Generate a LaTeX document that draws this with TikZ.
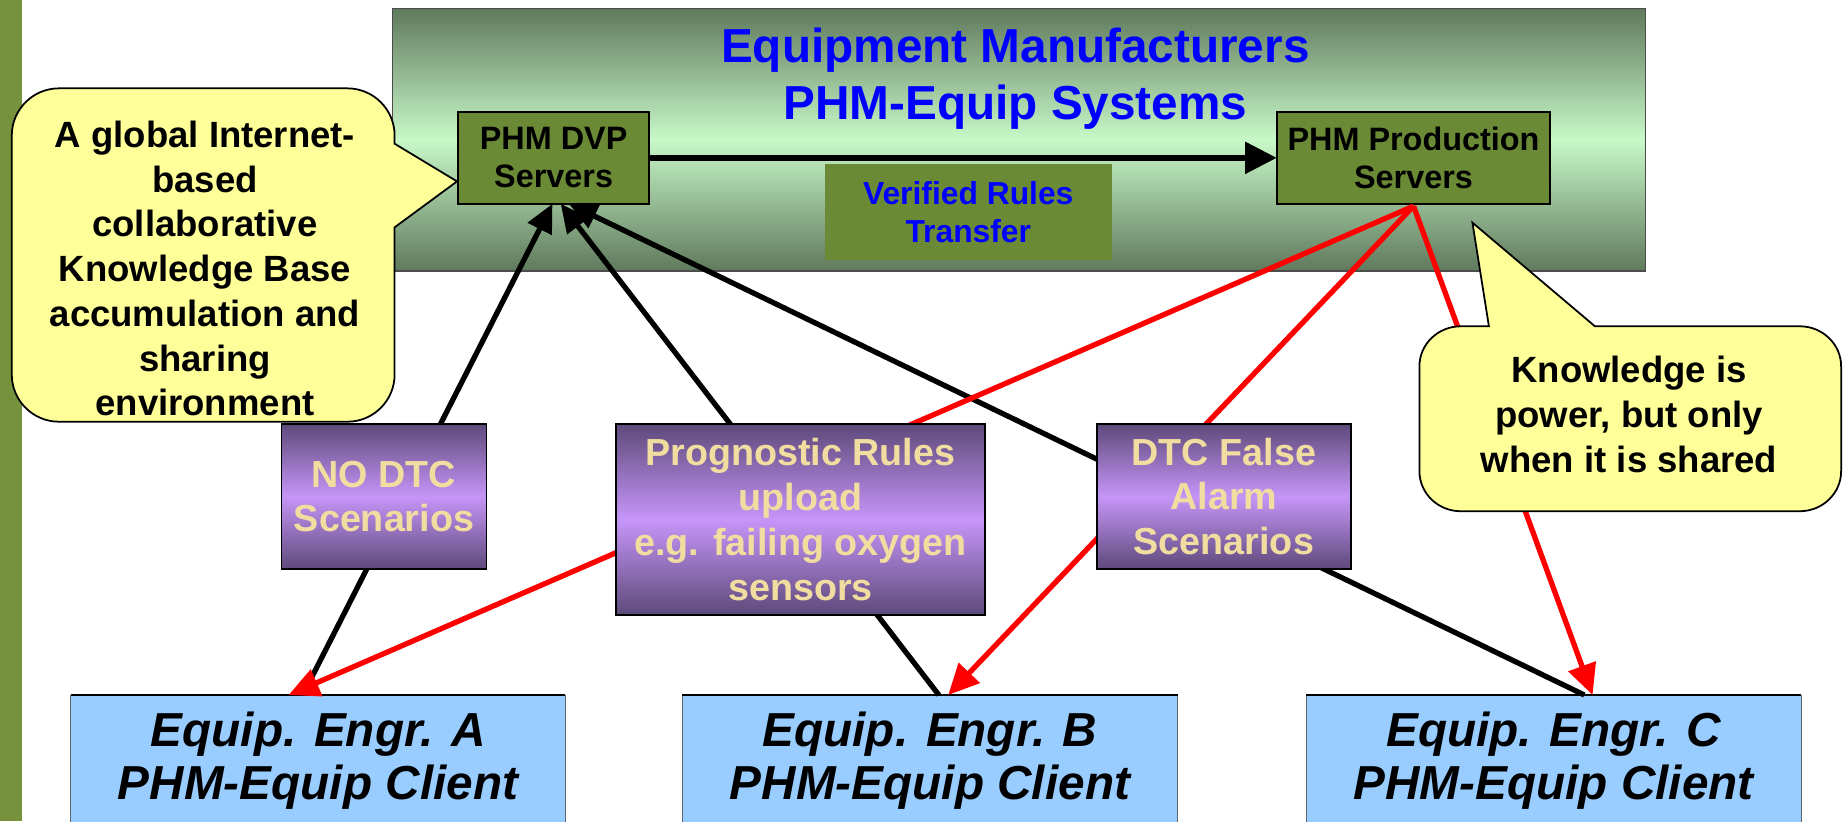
\documentclass[tikz,border=0pt]{standalone}
\usepackage{fontspec}
\setmainfont{Liberation Sans}
\usetikzlibrary{arrows.meta}
\pgfdeclarelayer{front}
\pgfsetlayers{main,front}
\definecolor{stripgreen}{HTML}{76923C}
\definecolor{sysdark}{HTML}{5F795C}
\definecolor{syslight}{HTML}{C8F8C8}
\definecolor{serverfill}{HTML}{6B8A35}
\definecolor{purpdark}{HTML}{5E4A7A}
\definecolor{purplight}{HTML}{C695F8}
\definecolor{wheattext}{HTML}{F2DDA0}
\definecolor{calloutfill}{HTML}{FFFF99}
\definecolor{clientfill}{HTML}{99CCFF}
\definecolor{titleblue}{HTML}{0000FF}
\definecolor{linkred}{HTML}{FF0000}
\begin{document}
\begin{tikzpicture}[x=1pt,y=-1pt,
  every node/.style={inner sep=0pt, outer sep=0pt, align=center},
  sysbox/.style={draw=black!70, line width=1.2pt, top color=sysdark, bottom color=sysdark, middle color=syslight},
  serverbox/.style={draw=black, line width=1.5pt, fill=serverfill, font=\fontsize{27.5}{32}\selectfont\bfseries},
  transferbox/.style={fill=serverfill, text=titleblue, font=\fontsize{27}{32}\selectfont\bfseries},
  scenariobox/.style={draw=black, line width=1.5pt, top color=purpdark, bottom color=purpdark, middle color=purplight, text=wheattext, font=\fontsize{32}{38}\selectfont\bfseries},
  clientbox/.style={draw=black!60, line width=0.8pt, fill=clientfill, font=\fontsize{40.5}{45}\selectfont\bfseries\itshape},
  bubble/.style={draw=black, line width=1.5pt, fill=calloutfill},
  bubbletext/.style={font=\fontsize{31}{38}\selectfont\bfseries},
  uplink/.style={draw=black, line width=4.5pt, -{Triangle[length=24pt,width=22pt]}},
  downlink/.style={draw=linkred, line width=4.5pt, -{Triangle[length=26pt,width=24pt]}},
  transferlink/.style={draw=black, line width=5.5pt, -{Triangle[length=27pt,width=26pt]}}
]
\useasboundingbox (0,0) rectangle (1568,697);
\clip (0,0) rectangle (1568,697);

% side strip
\fill[stripgreen] (0,0) rectangle (19,697);

% manufacturer systems panel
\node[sysbox, minimum width=1064pt, minimum height=223pt] (sys) at (865,118.5) {};
\node[text=titleblue, font=\fontsize{40.5}{48}\selectfont\bfseries] (title) at (862,67)
  {Equipment Manufacturers\\PHM-Equip Systems};
\node[serverbox, minimum width=162pt, minimum height=78pt] (dvp) at (470,134) {PHM DVP\\Servers};
\node[serverbox, minimum width=232pt, minimum height=78pt] (prod) at (1200,134) {PHM Production\\Servers};
\node[transferbox, minimum width=244pt, minimum height=82pt] (ver) at (822,180) {Verified Rules\\Transfer};

% client boxes
\node[clientbox, minimum width=420pt, minimum height=111pt] (cA) at (270,645.5) {Equip. Engr. A\\PHM-Equip Client};
\node[clientbox, minimum width=421pt, minimum height=111pt] (cB) at (789.5,645.5) {Equip. Engr. B\\PHM-Equip Client};
\node[clientbox, minimum width=420pt, minimum height=111pt] (cC) at (1319,645.5) {Equip. Engr. C\\PHM-Equip Client};
\foreach \c in {cA,cB,cC}
  \draw[line width=2.5pt] (\c.north west) -- (\c.north east);

% rule transfer between servers
\draw[transferlink] (dvp.east) -- (prod.west);

% scenario uploads from clients to the DVP servers
\draw[uplink] ([xshift=-13pt]cA.north) -- ([xshift=-1pt]dvp.south);
\draw[uplink] ([xshift=7.5pt]cB.north) -- ([xshift=6pt]dvp.south);
\draw[uplink] ([xshift=26pt]cC.north) -- ([xshift=13pt]dvp.south);

% production rules pushed to clients
\draw[downlink] ([yshift=-2pt]prod.south) -- ([xshift=-25pt]cA.north);
\draw[downlink] ([yshift=-2pt]prod.south) -- ([xshift=15.5pt]cB.north);
\draw[downlink] ([yshift=-2pt]prod.south) -- ([xshift=33pt]cC.north);

\begin{pgfonlayer}{front}
  % scenario boxes
  \node[scenariobox, minimum width=174pt, minimum height=123pt] (nodtc) at (326,421.5) {NO DTC\\Scenarios};
  \node[scenariobox, minimum width=313pt, minimum height=162pt] (prog) at (679.5,441)
    {Prognostic Rules\\upload\\e.g. failing oxygen\\sensors};
  \node[scenariobox, minimum width=216pt, minimum height=123pt] (dtcfa) at (1039,421.5) {DTC False\\Alarm\\Scenarios};

  % left call-out
  \path[bubble] (50,75) -- (295,75) .. controls (317,75) and (335,93) .. (335,115)
    -- (335,122) -- (388,154) -- (335,193) -- (335,318)
    .. controls (335,340) and (317,358) .. (295,358) -- (50,358)
    .. controls (28,358) and (10,340) .. (10,318) -- (10,115)
    .. controls (10,93) and (28,75) .. (50,75) -- cycle;
  \node[bubbletext] (callL) at (174,228)
    {A global Internet-\\based\\collaborative\\Knowledge Base\\accumulation and\\sharing\\environment};

  % right call-out
  \path[bubble] (1240,277) -- (1264,277) -- (1250,189) -- (1354,277) -- (1528,277)
    .. controls (1547,277) and (1563,292) .. (1563,311) -- (1563,400)
    .. controls (1563,419) and (1547,434) .. (1528,434) -- (1240,434)
    .. controls (1221,434) and (1205,419) .. (1205,400) -- (1205,311)
    .. controls (1205,292) and (1221,277) .. (1240,277) -- cycle;
  \node[bubbletext] (callR) at (1383,352) {Knowledge is\\power, but only\\when it is shared};
\end{pgfonlayer}
\end{tikzpicture}
\end{document}
